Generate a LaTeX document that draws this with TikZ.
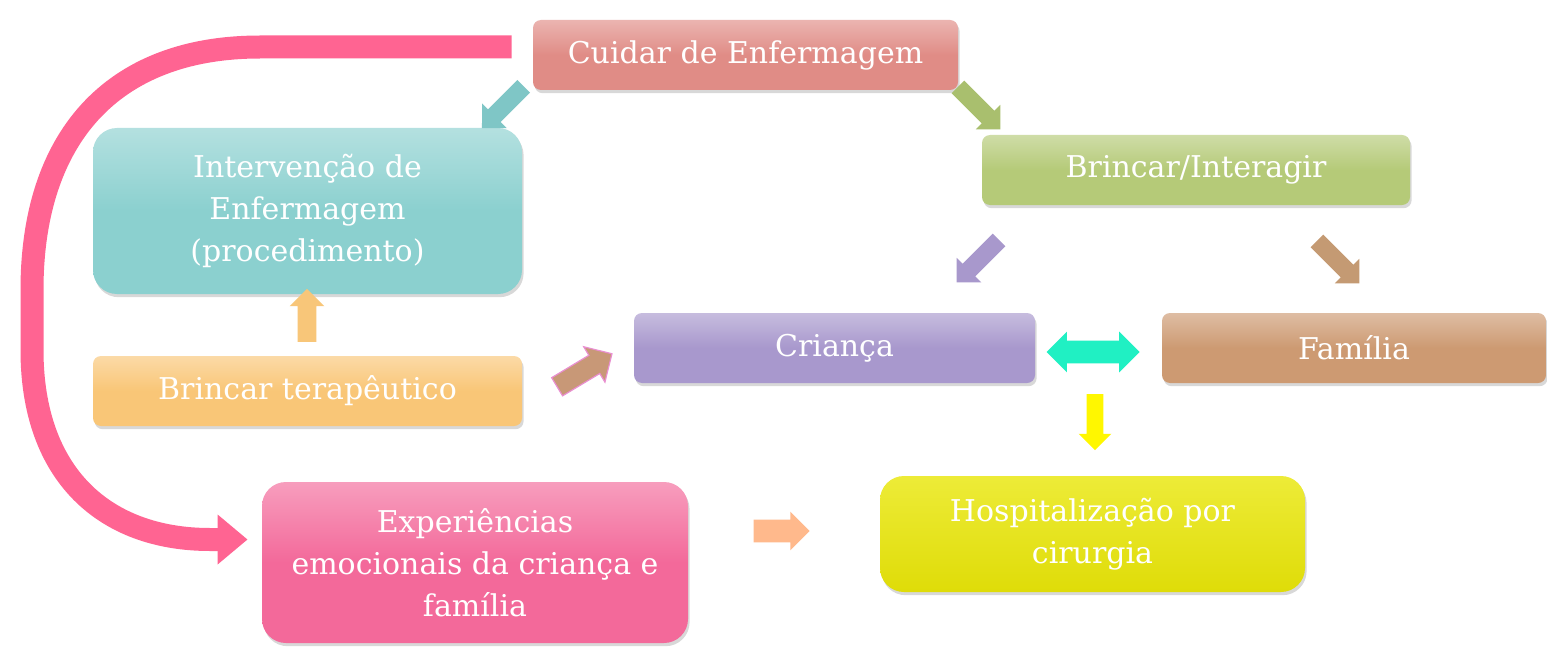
\documentclass[tikz,border=0pt]{standalone}
\usepackage{fontspec}
\setmainfont{DejaVu Serif}
\usetikzlibrary{shapes.arrows,shadows,calc,arrows.meta}
\definecolor{cSalmon}{HTML}{E08C86}
\definecolor{cTeal}{HTML}{8BD0CF}
\definecolor{cGreen}{HTML}{B5CA78}
\definecolor{cOrange}{HTML}{F9C677}
\definecolor{cPurple}{HTML}{A898CD}
\definecolor{cTan}{HTML}{CD9A72}
\definecolor{cPink}{HTML}{F3699A}
\definecolor{cYellow}{HTML}{DFDC08}
\definecolor{cBand}{HTML}{FF6492}
\definecolor{aTeal}{HTML}{7FC6C6}
\definecolor{aGreen}{HTML}{A9BF6E}
\definecolor{aPurple}{HTML}{A898CC}
\definecolor{aBrown}{HTML}{C49A73}
\definecolor{aOrange}{HTML}{F8C679}
\definecolor{aTan}{HTML}{C89877}
\definecolor{aTanEdge}{HTML}{E98FD0}
\definecolor{aCyan}{HTML}{20F0C3}
\definecolor{aYellow}{HTML}{FFF700}
\definecolor{aPeach}{HTML}{FFB98C}
\begin{document}
\begin{tikzpicture}[x=0.5pt,y=-0.5pt,
  box/.style={text=white, align=center, inner sep=0pt,
    font=\fontsize{15}{21}\selectfont,
    drop shadow={shadow xshift=0.8pt,shadow yshift=-1.6pt,opacity=0.3}},
  sbox/.style={box, rounded corners=4pt, top color=#1!65!white, bottom color=#1, middle color=#1},
  bbox/.style={box, rounded corners=12pt, top color=#1!65!white, bottom color=#1, middle color=#1},
  barrow/.style n args={4}{single arrow, fill=#1, draw=none, minimum height=#2,
    inner xsep=0pt, inner ysep=#3, single arrow head extend=#4, single arrow tip angle=90},
  darrow/.style n args={4}{double arrow, fill=#1, draw=none, minimum height=#2,
    inner xsep=0pt, inner ysep=#3, double arrow head extend=#4, double arrow tip angle=90},
  band/.style={draw=cBand, line width=11.5pt, -{Triangle[width=24pt,length=15pt]}}
]
\fill[white] (0,0) rectangle (1547,647);
\useasboundingbox (0,0) rectangle (1547,647);

% boxes
\node[sbox=cSalmon, minimum width=212.5pt, minimum height=35pt] (cuidar) at (745.5,55) {Cuidar de Enfermagem};
\node[bbox=cTeal, minimum width=214.5pt, minimum height=83pt] (interv) at (307.5,211) {Intervenção de\\Enfermagem\\(procedimento)};
\node[sbox=cGreen, minimum width=214pt, minimum height=35pt] (brincar) at (1196,170) {Brincar/Interagir};
\node[sbox=cOrange, minimum width=214.5pt, minimum height=35pt] (terap) at (307.5,391) {Brincar terapêutico};
\node[sbox=cPurple, minimum width=200.5pt, minimum height=35pt] (crianca) at (834.5,348) {Criança};
\node[sbox=cTan, minimum width=192pt, minimum height=35pt] (familia) at (1354,348) {Família};
\node[bbox=cPink, minimum width=213pt, minimum height=80.5pt] (exper) at (475,562.5) {Experiências\\emocionais da criança e\\família};
\node[bbox=cYellow, minimum width=212.5pt, minimum height=58pt, top color=cYellow!70!yellow!80!white] (hosp) at (1092.5,534) {Hospitalização por\\cirurgia};

% block arrows
\node[barrow={aTeal}{29.5pt}{4.25pt}{4.25pt}, rotate=-135] (a1) at (506,104) {};
\node[barrow={aGreen}{30pt}{4.25pt}{4.25pt}, rotate=-45] (a2) at (976,105) {};
\node[barrow={aPurple}{30pt}{4.25pt}{4.25pt}, rotate=-135] (a3) at (981,258) {};
\node[barrow={aBrown}{30pt}{4.25pt}{4.25pt}, rotate=-45] (a4) at (1335,259) {};
\node[barrow={aOrange}{26.5pt}{4.5pt}{4pt}, rotate=90] (a5) at (307,320) {};
\node[barrow={aTan}{32pt}{5pt}{5pt}, rotate=31, draw=aTanEdge, line width=0.6pt] (a6) at (580,373) {};
\node[darrow={aCyan}{46.5pt}{5.5pt}{4.5pt}] (a7) at (1093,352) {};
\node[barrow={aYellow}{28pt}{4pt}{4pt}, rotate=-90] (a8) at (1095,418) {};
\node[barrow={aPeach}{28pt}{5.5pt}{4pt}] (a9) at (776,531) {};

% big curved arrow
\coordinate (ps) at ($(cuidar.west)+(-21,-8)$);
\coordinate (pe) at ($(exper.west)+(-14,-23)$);
\draw[band] (ps) -- (260,47) .. controls (110,47) and (32,140) .. (32,290)
  -- (32,350) .. controls (32,475) and (105,539.5) .. (210,539.5) -- (pe);
\end{tikzpicture}
\end{document}
